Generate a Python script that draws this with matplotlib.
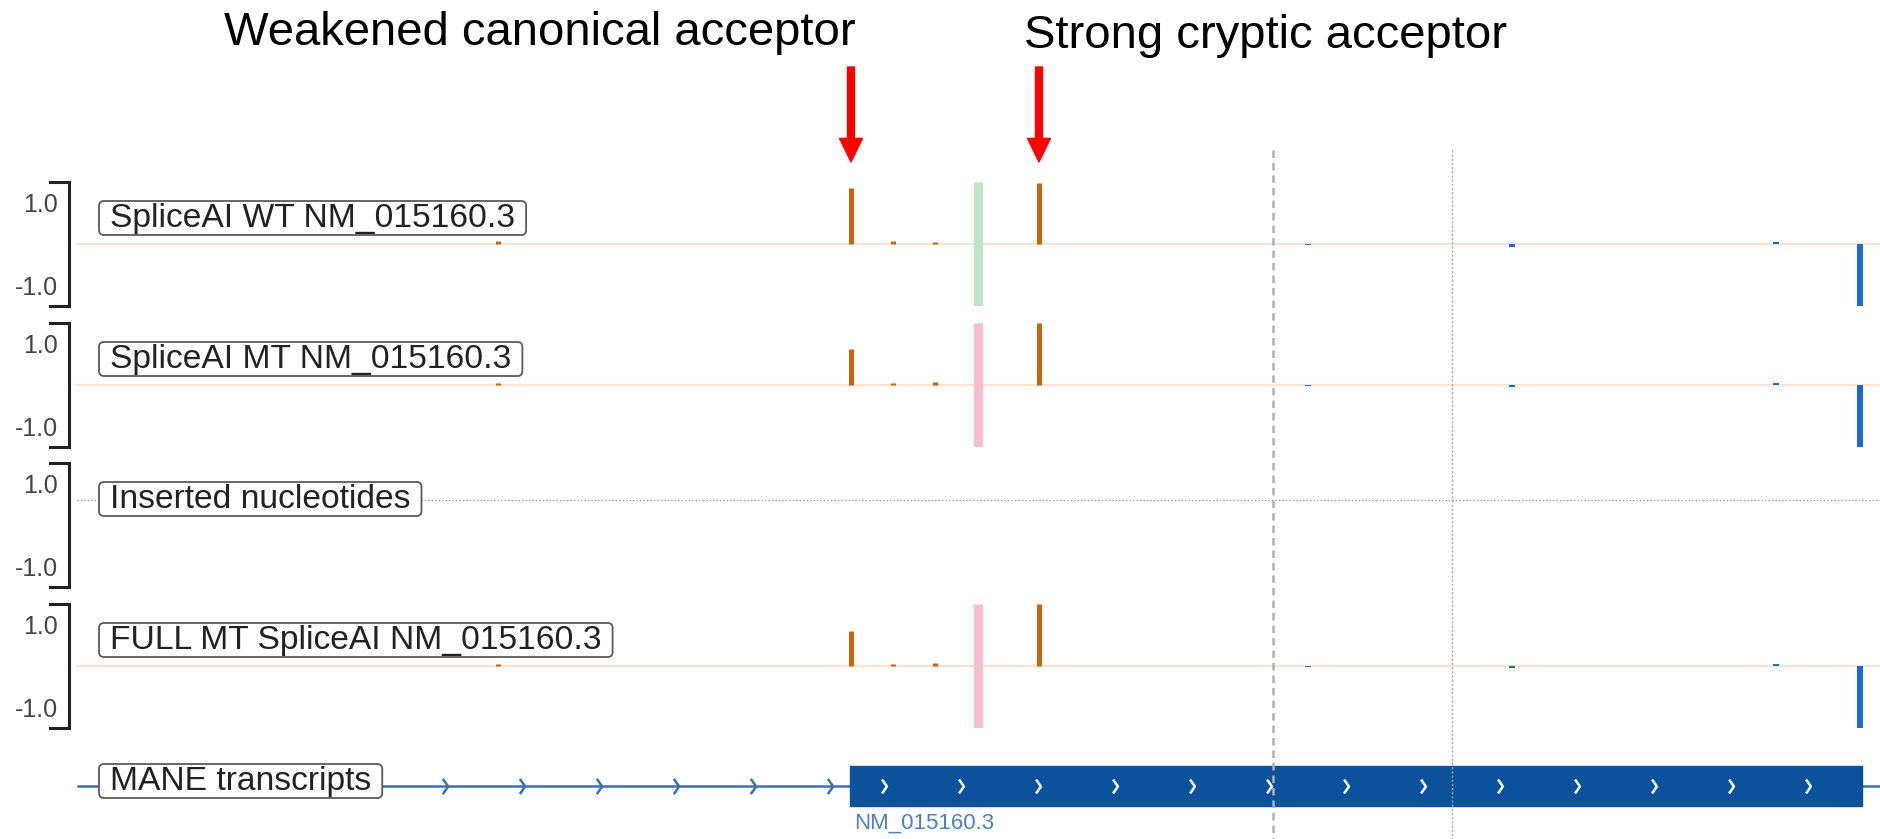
import matplotlib.pyplot as plt
from matplotlib.patches import Rectangle, FancyBboxPatch
from matplotlib.path import Path
from matplotlib.transforms import IdentityTransform

plt.rcParams['font.family'] = ['Liberation Sans', 'DejaVu Sans']

W, H = 1881, 839

# track labels
track_names = ['SpliceAI WT NM_015160.3', 'SpliceAI MT NM_015160.3',
               'Inserted nucleotides', 'FULL MT SpliceAI NM_015160.3']

# acceptor scores (positive, orange)
acc_pos = [498, 851, 893, 935, 1039]
acc_wt = [0.05, 0.90, 0.05, 0.03, 0.98]
acc_mt = [0.04, 0.58, 0.03, 0.05, 1.00]
acc_full = [0.04, 0.56, 0.03, 0.05, 1.00]

# donor scores (negative, blue)
don_pos = [1308, 1512, 1776, 1860]
don_wt = [-0.02, -0.05, 0.03, -1.0]
don_mt = [-0.02, -0.04, 0.03, -1.0]
don_full = [-0.02, -0.04, 0.03, -1.0]

variant_pos = 978
guide_pos = [1273, 1452]
callout_pos = [851, 1039]
callout_text = ['Weakened canonical acceptor', 'Strong cryptic acceptor']

tx_start, exon_start, exon_end = 78, 850, 1862
tx_label = 'MANE transcripts'
tx_id = 'NM_015160.3'

tracks = [(acc_wt, don_wt, '#bde5c8'),
          (acc_mt, don_mt, '#f6bfcd'),
          None,
          (acc_full, don_full, '#f6bfcd')]
track_tops = [182, 323, 463, 604]
track_h = 124


def px_axes(top, height, **kw):
    ax = fig.add_axes([0, 1 - (top + height) / H, 1, height / H], **kw)
    ax.set_xlim(0, W)
    ax.axis('off')
    return ax


fig = plt.figure(figsize=(W / 100, H / 100), dpi=100)
labels = []

for name, data, top in zip(track_names, tracks, track_tops):
    ax = px_axes(top, track_h)
    ax.set_ylim(-1, 1)
    # bracket axis
    ax.plot([50, 69, 69, 50], [1, 1, -1, -1], color='#222', lw=2.2,
            clip_on=False, solid_joinstyle='miter')
    ax.text(58, 0.63, '1.0', ha='right', va='center', fontsize=18, color='#444')
    ax.text(58, -0.71, '-1.0', ha='right', va='center', fontsize=18, color='#444')
    if data is None:
        ax.axhline(1 - 37 / 62, xmin=77 / W, color='#999', ls=(0, (1, 1.5)), lw=1)
    else:
        acc, don, band = data
        ax.axhline(0, xmin=77 / W, color='#fbe3d3', lw=1.6, zorder=1)
        ax.vlines(variant_pos, -1, 1, color=band, lw=6.8, zorder=2)
        ax.vlines(acc_pos, 0, acc, color='#c8650c', lw=3.6, zorder=3)
        ax.vlines(don_pos, 0, don, color='#1a6dcc', lw=4.3, zorder=3)
    t = ax.text(110, 1 - 45 / 62, name, ha='left', va='baseline', fontsize=24.2,
                color='#222', zorder=5)
    labels.append((ax, t))

# transcript track
tx = px_axes(746, 80)
tx.set_ylim(-1, 1)
tx.plot([tx_start, W], [0, 0], color='#3a70b5', lw=1.8, zorder=1)
tx.add_patch(Rectangle((exon_start, -0.5), exon_end - exon_start, 1.0,
                       color='#0b519c', zorder=2))
chev = Path([(-0.35, 1), (0.35, 0), (-0.35, -1)],
            [Path.MOVETO, Path.LINETO, Path.LINETO])
intron_chev = [exon_start - 20 - 77 * k for k in range(6)]
exon_chev = [884 + 77 * k for k in range(13)]
tx.plot(intron_chev, [0] * len(intron_chev), ls='none', marker=chev, ms=11,
        mfc='none', mec='#3a70b5', mew=1.8, zorder=3)
tx.plot(exon_chev, [0] * len(exon_chev), ls='none', marker=chev, ms=10,
        mfc='none', mec='white', mew=1.8, zorder=3)
t = tx.text(110, -0.1, tx_label, ha='left', va='baseline', fontsize=24.2,
            color='#222', zorder=5)
labels.append((tx, t))
tx.text(exon_start + 4, -0.93, tx_id, ha='left', va='center', fontsize=16,
        color='#4f7fc0', clip_on=False)

# rounded label boxes sized from the rendered text
fig.canvas.draw()
for ax, t in labels:
    bb = t.get_window_extent()
    ax.add_patch(FancyBboxPatch((bb.x0 - 11, bb.y0 - 1), bb.width + 22,
                                bb.height + 3,
                                boxstyle='round,pad=0,rounding_size=5',
                                fc='white', ec='#5a5a5a', lw=1.3, zorder=4,
                                transform=IdentityTransform(), clip_on=False))

# overlay: guide lines, arrows, callouts
ov = fig.add_axes([0, 0, 1, 1], zorder=10)
ov.set_xlim(0, W)
ov.set_ylim(H, 0)
ov.axis('off')
ov.set_facecolor('none')
ov.vlines(guide_pos[0], 150, H, color='#b0b0b0', ls=(0, (3, 2)), lw=1.8)
ov.vlines(guide_pos[1], 150, H, color='#a8a8a8', ls=(0, (1.5, 1.5)), lw=1.0)

for x in callout_pos:
    ov.annotate('', xy=(x, 162), xytext=(x, 67),
                arrowprops=dict(facecolor='red', edgecolor='red', width=5,
                                headwidth=16.5, headlength=17, shrink=0))

ov.text(540, 45, callout_text[0], ha='center', va='baseline', fontsize=34)
ov.text(1266, 48, callout_text[1], ha='center', va='baseline', fontsize=34)

fig.savefig('out.png', dpi=100)
